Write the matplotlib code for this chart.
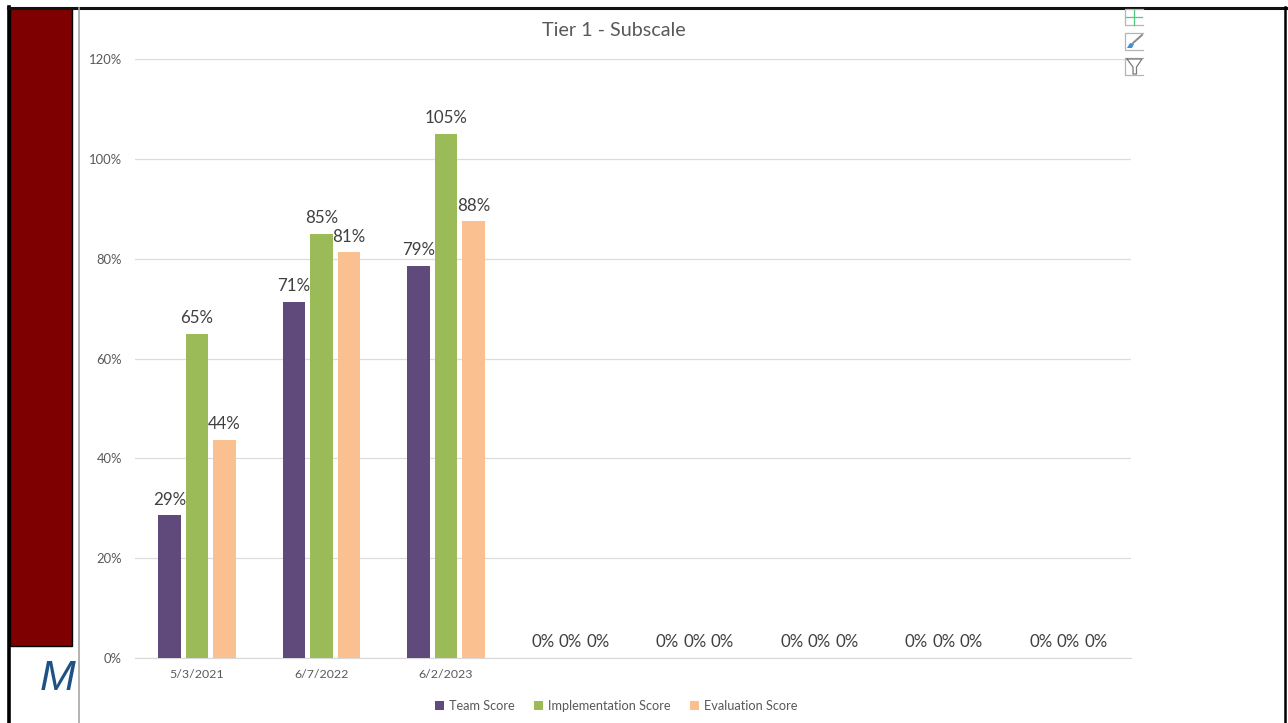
import matplotlib
matplotlib.use("Agg")
import matplotlib.pyplot as plt
from matplotlib.patches import Rectangle, Polygon
from matplotlib.lines import Line2D

W, H = 1288, 723

dates = ["5/3/2021", "6/7/2022", "6/2/2023", "", "", "", "", ""]
team_score = [28.6, 71.4, 78.6, 0, 0, 0, 0, 0]
implementation_score = [65, 85, 105, 0, 0, 0, 0, 0]
evaluation_score = [43.75, 81.25, 87.5, 0, 0, 0, 0, 0]
series_names = ["Team Score", "Implementation Score", "Evaluation Score"]
series_colors = ["#604A7B", "#9BBB59", "#FAC090"]
y_ticks = [0, 20, 40, 60, 80, 100, 120]

plt.rcParams["font.family"] = ["Lato", "DejaVu Sans"]
fig = plt.figure(figsize=(W / 100, H / 100), dpi=100, facecolor="white")


def px_rect(x0, y0, x1, y1):
    """Figure-fraction rectangle from pixel corners (y measured from the top)."""
    return [x0 / W, 1 - y1 / H, (x1 - x0) / W, (y1 - y0) / H]


# Page furniture behind the chart: side band, frame and divider
overlay = fig.add_axes([0, 0, 1, 1], zorder=0)
overlay.set_xlim(0, W)
overlay.set_ylim(H, 0)
overlay.axis("off")
overlay.add_patch(Rectangle((10, 8), 62, 638, facecolor="#7F0000", edgecolor="black", lw=1))
overlay.add_line(Line2D([9.5, 9.5], [7, H], color="black", lw=2.6))
overlay.add_line(Line2D([8, 1288], [7.5, 7.5], color="#111111", lw=2.2))
overlay.add_line(Line2D([1285.5, 1285.5], [7, H], color="black", lw=1.8))
overlay.add_line(Line2D([79.5, 79.5], [8, H], color="#A6A6A6", lw=1.2))
overlay.text(58, 679, "M", color="#1F5283", fontsize=31, style="italic",
             family="Liberation Sans", ha="center", va="center", zorder=1)

ax = fig.add_axes(px_rect(134.5, 59, 1130.5, 658), zorder=1)
ax.patch.set_alpha(0)
ax.set_xlim(-0.5, 7.5)
ax.set_ylim(0, 120)

bar_width = 22.5 / 124.5
step = 27.5 / 124.5
all_series = [team_score, implementation_score, evaluation_score]
for i, (values, name, color) in enumerate(zip(all_series, series_names, series_colors)):
    positions = [c + (i - 1) * step for c in range(len(dates))]
    ax.bar(positions, values, width=bar_width, color=color, label=name, zorder=3)
    for x, v in zip(positions, values):
        ax.annotate(f"{v:.0f}%", (x, v), xytext=(0, 5.5), textcoords="offset points",
                    ha="center", va="bottom", fontsize=12.2, color="#404040", zorder=4)

ax.set_yticks(y_ticks)
ax.set_yticklabels([f"{t}%" for t in y_ticks], fontsize=9.4, color="#595959")
ax.set_xticks(range(len(dates)))
ax.set_xticklabels(dates, fontsize=8.9, color="#595959")
ax.tick_params(axis="both", length=0)
ax.tick_params(axis="x", pad=8)
ax.tick_params(axis="y", pad=9)
ax.grid(axis="y", color="#DCDCDC", lw=0.9, zorder=0)
ax.set_axisbelow(True)
for side in ("top", "right", "left"):
    ax.spines[side].set_visible(False)
ax.spines["bottom"].set_color("#D9D9D9")

fig.text(613.5 / W, 1 - 30.5 / H, "Tier 1 - Subscale", ha="center", va="center",
         fontsize=14.2, color="#595959")

handles, labels = ax.get_legend_handles_labels()
fig.legend(handles, labels, loc="center", bbox_to_anchor=(616 / W, 1 - 705.5 / H), ncol=3,
           frameon=False, fontsize=9.2, labelcolor="#595959", handlelength=0.7,
           handleheight=0.7, handletextpad=0.4, columnspacing=1.5)

# Chart tool buttons at the top right of the plot
tools = fig.add_axes([0, 0, 1, 1], zorder=2)
tools.set_xlim(0, W)
tools.set_ylim(H, 0)
tools.axis("off")
for top, bottom in [(9, 25), (33, 50), (58, 75)]:
    tools.add_patch(Rectangle((1125, top), 18, bottom - top, facecolor="white", edgecolor="none"))
    tools.add_line(Line2D([1143, 1125, 1125, 1143], [top, top, bottom, bottom], color="#B5B5B5", lw=0.9))
tools.add_line(Line2D([1126, 1142], [17, 17], color="#52C878", lw=0.9))
tools.add_line(Line2D([1134, 1134], [10, 25], color="#52C878", lw=0.9))
tools.add_line(Line2D([1133, 1142], [43, 35], color="#8A8A8A", lw=1.4))
tools.add_patch(Polygon([[1127, 48], [1130, 43], [1134, 44], [1132, 48]], facecolor="#3F8FD8", edgecolor="none"))
tools.add_line(Line2D([1127, 1142, 1136.5, 1136.5, 1133, 1133, 1127],
                      [59, 59, 67, 74, 74, 67, 59], color="#7A7A7A", lw=0.9))

fig.savefig("out.png", dpi=100)
